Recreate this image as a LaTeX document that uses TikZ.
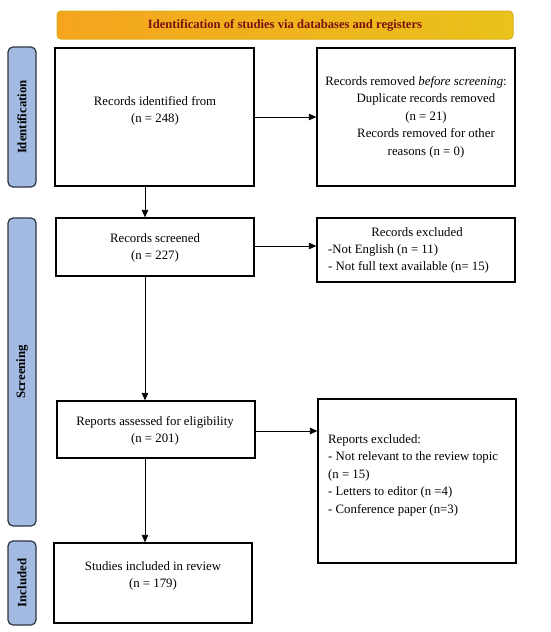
\documentclass[tikz,border=0pt]{standalone}
\usepackage{fontspec}
\setmainfont{Liberation Serif}
\usetikzlibrary{arrows.meta}
\definecolor{sidebl}{HTML}{A3BBE3}
\definecolor{sidebd}{HTML}{2E3440}
\definecolor{hdrL}{HTML}{F5A41E}
\definecolor{hdrR}{HTML}{E9C21C}
\definecolor{hdrB}{HTML}{D9AE1A}
\definecolor{hdrT}{HTML}{7A1212}
\begin{document}
\begin{tikzpicture}[x=1pt,y=-1pt,
 box/.style={draw=black,line width=1.3pt,fill=white,inner sep=0pt},
 side/.style={draw=sidebd,line width=1.2pt,fill=sidebl,rounded corners=5pt,inner sep=0pt},
 sidetxt/.style={rotate=90,font=\bfseries\fontsize{12.8}{14}\selectfont},
 txt/.style={font=\fontsize{12.8}{17.5}\selectfont,align=center,inner sep=0pt},
 arr/.style={line width=0.8pt,-{Triangle[length=7.5pt,width=6.5pt]}}
]
\useasboundingbox (0,0) rectangle (550,632);
\fill[white] (0,0) rectangle (550,632);

% header
\node[draw=hdrB,line width=1pt,rounded corners=4pt,left color=hdrL,right color=hdrR,
  minimum width=456pt,minimum height=28pt,inner sep=0pt,
  font=\bfseries\fontsize{12.6}{14}\selectfont,text=hdrT] (hdr) at (285,25)
  {Identification of studies via databases and registers};

% side bars
\node[side,minimum width=28pt,minimum height=140pt] (sid) at (22,117) {};
\node[sidetxt] (sidt) at (sid.center) {Identification};
\node[side,minimum width=28pt,minimum height=308pt] (sscr) at (22,372) {};
\node[sidetxt] (sscrt) at (sscr.center) {Screening};
\node[side,minimum width=28pt,minimum height=84pt] (sinc) at (22,583) {};
\node[sidetxt] (sinct) at (sinc.center) {Included};

% boxes
\node[box,minimum width=199pt,minimum height=138pt] (b1) at (154.5,117) {};
\node[txt] (b1t) at (155,111) {Records identified from\\(n = 248)};

\node[box,minimum width=198pt,minimum height=138pt] (b2) at (416,117) {};
\node[txt] (b2t) at (416,117) {Records removed \textit{before screening}:\\
\hspace*{20pt}Duplicate records removed\\
\hspace*{20pt}(n = 21)\\
\hspace*{20pt}Records removed for other\\
\hspace*{20pt}reasons (n = 0)};

\node[box,minimum width=198pt,minimum height=58pt] (b3) at (155,247) {};
\node[txt] (b3t) at (155,248) {Records screened\\(n = 227)};

\node[box,minimum width=198pt,minimum height=64pt] (b4) at (416,250) {};
\node[txt] (b4h) at (417,232) {Records excluded};
\node[txt,align=left,anchor=west] (b4t) at (328,259) {-Not English (n = 11)\\- Not full text available (n= 15)};

\node[box,minimum width=198pt,minimum height=57pt] (b5) at (156,429.5) {};
\node[txt] (b5t) at (155,431) {Reports assessed for eligibility\\(n = 201)};

\node[box,minimum width=198pt,minimum height=164pt] (b6) at (417,481) {};
\node[txt,align=left,anchor=north west] (b6t) at (328,434) {Reports excluded:\\
- Not relevant to the review topic\\
(n = 15)\\
- Letters to editor (n =4)\\
- Conference paper (n=3)};

\node[box,minimum width=198pt,minimum height=80pt] (b7) at (153,583) {};
\node[txt] (b7t) at (153,576) {Studies included in review\\(n = 179)};

% connectors
\coordinate (cx) at (145,0);
\draw[arr] (b1.south -| cx) -- (b3.north -| cx);
\draw[arr] (b3.south -| cx) -- (b5.north -| cx);
\draw[arr] (b5.south -| cx) -- (b7.north -| cx);
\draw[arr] (b1.east) -- (b2.west);
\coordinate (a3) at (0,246);
\draw[arr] (b3.east |- a3) -- (b4.west |- a3);
\coordinate (a5) at (0,431);
\draw[arr] (b5.east |- a5) -- (b6.west |- a5);
\end{tikzpicture}
\end{document}
